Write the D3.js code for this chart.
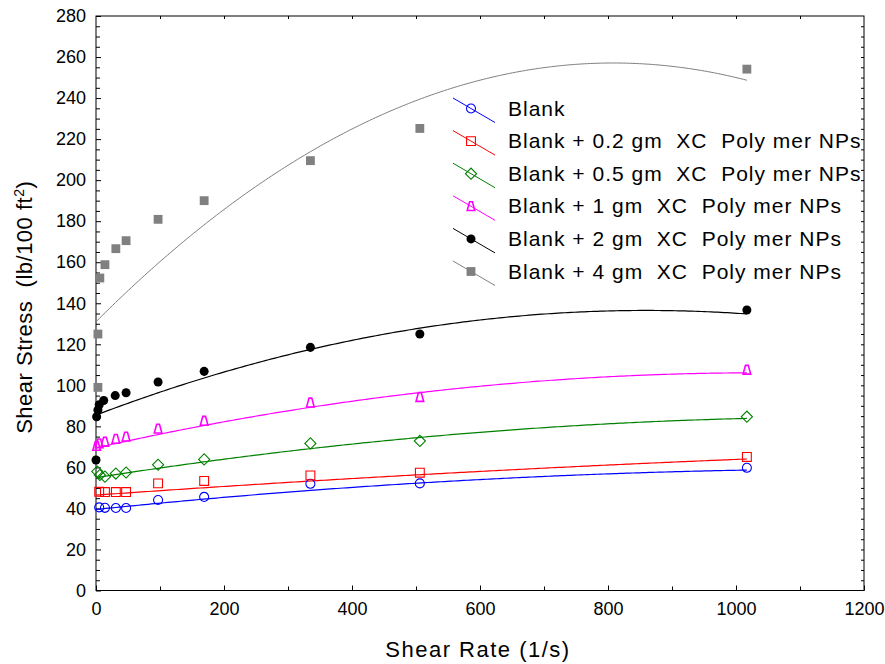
<!DOCTYPE html>
<html>
<head>
<meta charset="utf-8">
<script src="https://cdn.jsdelivr.net/npm/d3@7"></script>
<style>
  body { margin: 0; background: #fff; }
  text { font-family: "Liberation Sans", Arial, sans-serif; fill: #000; }
</style>
</head>
<body>
<div id="chart"></div>
<script>
var width = 885, height = 664;
var margin = {top: 16, right: 21, bottom: 73.5, left: 96};

// legend labels and colours, same order as the series below
var seriesNames = [
  "Blank",
  "Blank + 0.2 gm  XC  Poly mer NPs",
  "Blank + 0.5 gm  XC  Poly mer NPs",
  "Blank + 1 gm  XC  Poly mer NPs",
  "Blank + 2 gm  XC  Poly mer NPs",
  "Blank + 4 gm  XC  Poly mer NPs"
];
var seriesColors = ["#0000ff", "#ff0000", "#008000", "#ff00ff", "#000000", "#808080"];
var seriesMarkers = ["circle", "square", "diamond", "triangle", "dot", "block"];

// measured points (shear rate 1/s, shear stress lb/100 ft2)
var rateBlank    = [5, 14, 31, 47, 97, 169, 335, 506, 1017];
var stressBlank  = [40.5, 40.3, 40.2, 40.2, 44.1, 45.6, 52.0, 52.2, 59.8];

var rate02   = [5, 14, 31, 47, 97, 169, 335, 506, 1017];
var stress02 = [48.1, 48.0, 48.0, 48.0, 52.2, 53.4, 56.1, 57.4, 65.1];

var rate05   = [2, 6, 14, 31, 47, 97, 169, 335, 506, 1017];
var stress05 = [58.0, 56.3, 55.5, 57.0, 57.5, 61.3, 63.9, 71.7, 72.9, 84.7];

var rate1   = [1, 5, 14, 31, 47, 97, 169, 335, 506, 1017];
var stress1 = [70.4, 71.6, 72.4, 73.8, 74.9, 78.8, 82.6, 91.5, 94.2, 107.5];

var rate2   = [0, 1, 3, 5, 12, 30, 47, 97, 169, 335, 506, 1017];
var stress2 = [63.6, 84.7, 88.0, 90.5, 92.6, 95.0, 96.4, 101.6, 106.8, 118.5, 125.0, 136.7];

var rate4   = [3, 3, 6, 14, 31, 47, 97, 169, 335, 506, 1017];
var stress4 = [99.0, 125.0, 152.3, 158.8, 166.6, 170.5, 180.9, 190.0, 209.5, 225.2, 254.1];

// 2nd order trend lines: y = a + b x + c x^2
var fitA = [39.5, 46.5, 55.0, 69.5, 85.5, 131.0];
var fitB = [0.03203, 0.02197, 0.04898, 0.07038, 0.1186, 0.312];
var fitC = [-1.293e-5, -4.59e-6, -2.024e-5, -3.382e-5, -6.896e-5, -1.93e-4];

var xTicks = [0, 200, 400, 600, 800, 1000, 1200];
var yTicks = [0, 20, 40, 60, 80, 100, 120, 140, 160, 180, 200, 220, 240, 260, 280];

var allRates = [rateBlank, rate02, rate05, rate1, rate2, rate4];
var allStress = [stressBlank, stress02, stress05, stress1, stress2, stress4];

var series = seriesNames.map(function(name, i) {
  return {
    name: name, color: seriesColors[i], marker: seriesMarkers[i],
    points: allRates[i].map(function(x, j) { return {x: x, y: allStress[i][j]}; }),
    a: fitA[i], b: fitB[i], c: fitC[i]
  };
});

var svg = d3.select("#chart").append("svg")
  .attr("width", width).attr("height", height);

var x = d3.scaleLinear().domain([0, 1200]).range([margin.left, width - margin.right]);
var y = d3.scaleLinear().domain([0, 280]).range([height - margin.bottom, margin.top]);

// frame
svg.append("rect")
  .attr("x", x(0)).attr("y", y(280))
  .attr("width", x(1200) - x(0)).attr("height", y(0) - y(280))
  .attr("fill", "none").attr("stroke", "#000").attr("stroke-width", 1);

function styleAxis(g) {
  g.select(".domain").remove();
  g.selectAll("line").attr("stroke", "#000");
  g.selectAll("text").attr("font-family", "Liberation Sans, Arial, sans-serif").attr("font-size", 18);
}

// major axes, ticks pointing inward
svg.append("g").attr("transform", "translate(0," + y(0) + ")")
  .call(d3.axisBottom(x).tickValues(xTicks).tickSizeInner(-5).tickSizeOuter(0).tickPadding(12).tickFormat(d3.format("d")))
  .call(styleAxis);
svg.append("g").attr("transform", "translate(" + x(0) + ",0)")
  .call(d3.axisLeft(y).tickValues(yTicks).tickSizeInner(-5).tickSizeOuter(0).tickPadding(10).tickFormat(d3.format("d")))
  .call(styleAxis);

// minor ticks
var xMinor = d3.range(100, 1200, 200);
var yMinor = d3.range(0, 281, 5).filter(function(v) { return v % 20 !== 0; });
svg.append("g").attr("transform", "translate(0," + y(0) + ")")
  .call(d3.axisBottom(x).tickValues(xMinor).tickSizeInner(-4).tickSizeOuter(0).tickFormat(""))
  .call(styleAxis);
svg.append("g").attr("transform", "translate(" + x(0) + ",0)")
  .call(d3.axisLeft(y).tickValues(yMinor).tickSizeInner(-4).tickSizeOuter(0).tickFormat(""))
  .call(styleAxis);

// mirrored ticks on top and right
svg.append("g").attr("transform", "translate(0," + y(280) + ")")
  .call(d3.axisTop(x).tickValues(d3.range(100, 1200, 100)).tickSizeInner(-3).tickSizeOuter(0).tickFormat(""))
  .call(styleAxis);
svg.append("g").attr("transform", "translate(" + x(1200) + ",0)")
  .call(d3.axisRight(y).tickValues(d3.range(5, 280, 5)).tickSizeInner(-3).tickSizeOuter(0).tickFormat(""))
  .call(styleAxis);

// axis titles
svg.append("text")
  .attr("x", (x(0) + x(1200)) / 2 - 2).attr("y", 657)
  .attr("text-anchor", "middle").attr("font-size", 22)
  .attr("letter-spacing", 1.5)
  .text("Shear Rate (1/s)");

var yTitle = svg.append("text")
  .attr("transform", "translate(32," + ((y(0) + y(280)) / 2 + 4) + ") rotate(-90)")
  .attr("text-anchor", "middle").attr("font-size", 22)
  .attr("letter-spacing", 0.5)
  .style("white-space", "pre");
yTitle.append("tspan").text("Shear Stress  (lb/100 ft");
yTitle.append("tspan").attr("dy", -8).attr("font-size", 14).text("2");
yTitle.append("tspan").attr("dy", 8).text(")");

// marker shapes
function markerPath(type) {
  if (type === "circle" || type === "dot") return d3.symbol(d3.symbolCircle, 64)();
  if (type === "square" || type === "block") return d3.symbol(d3.symbolSquare, 78)();
  if (type === "diamond") return d3.symbol(d3.symbolSquare, 62)();
  return "M-3.8,4.2L3.8,4.2L1.4,-4.6L-1.4,-4.6Z";
}
function drawMarker(sel, s) {
  var filled = (s.marker === "dot" || s.marker === "block");
  sel.append("path")
    .attr("d", markerPath(s.marker))
    .attr("transform", function() { return s.marker === "diamond" ? "rotate(45)" : null; })
    .attr("fill", filled ? s.color : "none")
    .attr("stroke", filled ? "none" : s.color)
    .attr("stroke-width", s.marker === "triangle" ? 1.6 : 1.1);
}

var plot = svg.append("g");

// trend lines
var line = d3.line().x(function(d) { return x(d[0]); }).y(function(d) { return y(d[1]); });
series.forEach(function(s) {
  var xmax = d3.max(s.points, function(p) { return p.x; });
  var pts = d3.range(0, xmax + 0.01, xmax / 200).map(function(v) {
    return [v, s.a + s.b * v + s.c * v * v];
  });
  plot.append("path").datum(pts)
    .attr("d", line)
    .attr("fill", "none")
    .attr("stroke", s.color)
    .attr("stroke-width", s.marker === "block" ? 1 : 1.2);
});

// points
series.forEach(function(s) {
  plot.append("g").selectAll("g")
    .data(s.points).enter().append("g")
    .attr("transform", function(d) { return "translate(" + x(d.x) + "," + y(d.y) + ")"; })
    .each(function() { drawMarker(d3.select(this), s); });
});

// legend
var legend = svg.append("g").attr("transform", "translate(0,108)");
var rows = legend.selectAll("g").data(series).enter().append("g")
  .attr("transform", function(d, i) { return "translate(0," + (i * 32.6) + ")"; });
rows.append("line")
  .attr("x1", 453).attr("y1", -10).attr("x2", 495).attr("y2", 14.5)
  .attr("stroke", function(d) { return d.color; })
  .attr("stroke-width", 1);
rows.append("g").attr("transform", "translate(471,0.5)")
  .each(function(d) { drawMarker(d3.select(this), d); });
rows.append("text")
  .attr("x", 508).attr("y", 7.5)
  .attr("font-size", 21)
  .attr("letter-spacing", 1)
  .style("white-space", "pre")
  .text(function(d) { return d.name; });
</script>
</body>
</html>
